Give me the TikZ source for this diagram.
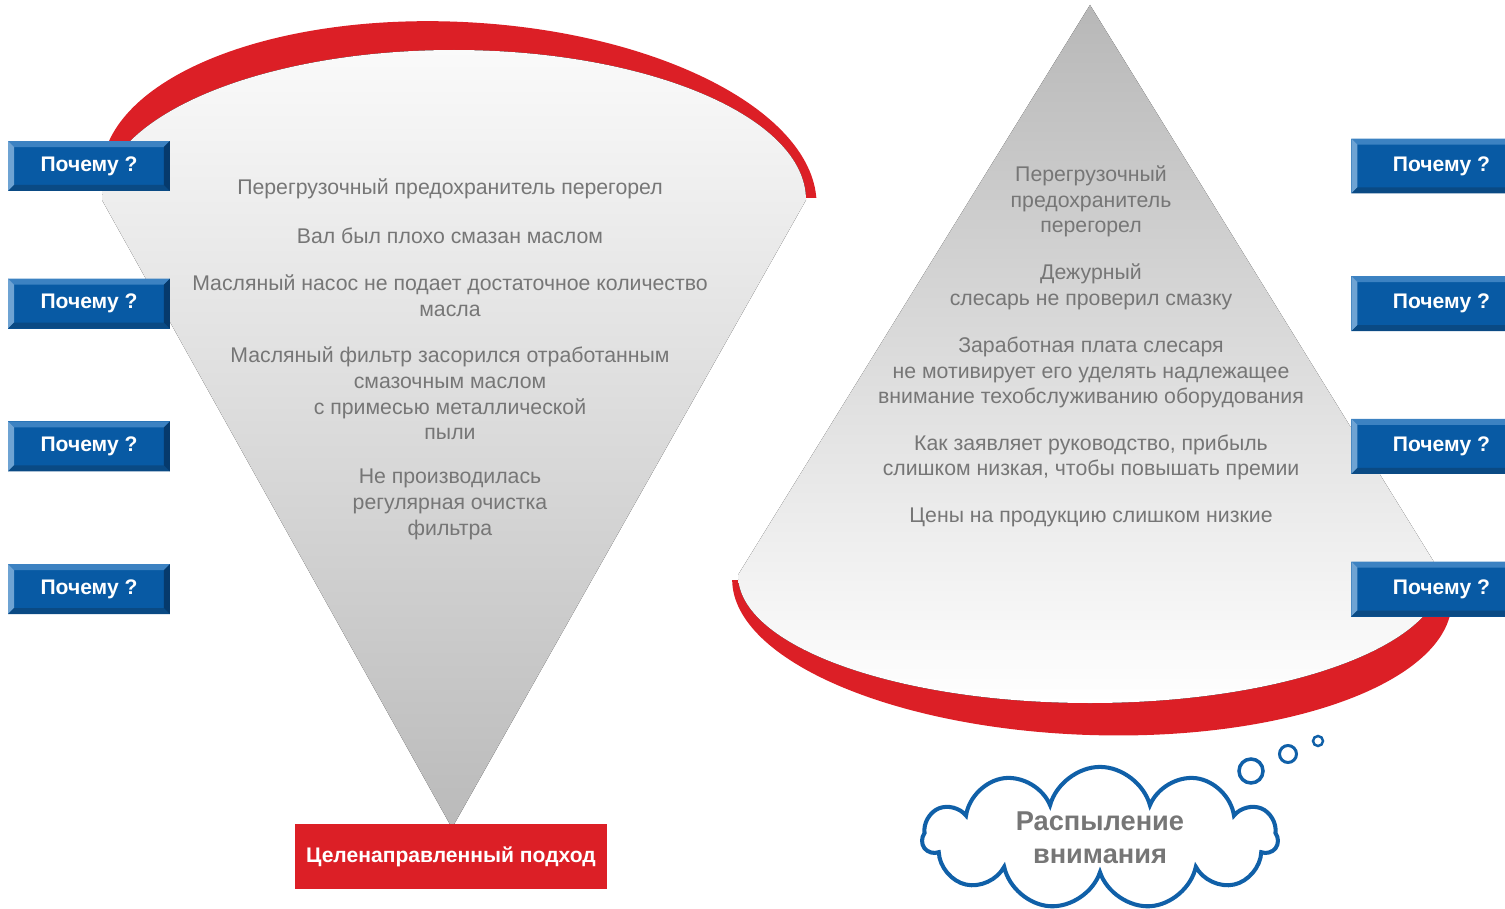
\documentclass[tikz,border=0pt]{standalone}
\usepackage{fontspec}
\setmainfont{Liberation Sans}
\usepackage{xcolor}
\usepackage{tikz}
\usetikzlibrary{positioning,shapes.symbols}

\definecolor{rimred}{RGB}{220,31,38}
\definecolor{btnblue}{RGB}{8,90,164}
\definecolor{bevtop}{RGB}{60,130,194}
\definecolor{bevleft}{RGB}{110,163,211}
\definecolor{bevbot}{RGB}{10,74,132}
\definecolor{bevright}{RGB}{6,58,108}
\definecolor{cloudblue}{RGB}{16,96,168}
\definecolor{textgray}{RGB}{118,118,118}

\newcommand{\bev}{0.12cm}

\begin{document}
\begin{tikzpicture}[
    x=0.02cm, y=-0.02cm,
    why/.style={rectangle, fill=btnblue, minimum width=3.24cm, minimum height=1cm, inner sep=0pt, text=white, font=\fontsize{12}{14}\selectfont\bfseries,
      path picture={
        \coordinate (nw) at (path picture bounding box.north west);
        \coordinate (ne) at (path picture bounding box.north east);
        \coordinate (sw) at (path picture bounding box.south west);
        \coordinate (se) at (path picture bounding box.south east);
        \fill[bevtop] (nw) -- (ne) -- ([shift={(-\bev,-\bev)}]ne) -- ([shift={(\bev,-\bev)}]nw) -- cycle;
        \fill[bevleft] (nw) -- (sw) -- ([shift={(\bev,\bev)}]sw) -- ([shift={(\bev,-\bev)}]nw) -- cycle;
        \fill[bevbot] (sw) -- (se) -- ([shift={(-\bev,\bev)}]se) -- ([shift={(\bev,\bev)}]sw) -- cycle;
        \fill[bevright] (ne) -- (se) -- ([shift={(-\bev,\bev)}]se) -- ([shift={(-\bev,-\bev)}]ne) -- cycle;
      }},
    whyR/.style={why, minimum width=3.6cm, minimum height=1.1cm},
    cause/.style={align=center, inner sep=0pt, text=textgray, font=\fontsize{12.1}{14.6}\selectfont},
    goal/.style={rectangle, fill=rimred, minimum width=6.24cm, minimum height=1.3cm, inner sep=0pt, text=white, font=\fontsize{12}{14}\selectfont\bfseries},
    thought/.style={cloud, cloud puffs=11, aspect=2.8, draw=cloudblue, line width=2.3pt, fill=white, minimum width=7.1cm, minimum height=2.3cm, align=center, text=textgray, font=\fontsize{15.5}{18.5}\selectfont\bfseries},
    bubble/.style={circle, draw=cloudblue, line width=2pt, fill=white, inner sep=0pt}
]
\useasboundingbox (0,0) rectangle (1505,909);

% Red rims
\begin{scope}
  \clip (0,0) rectangle (1505,197);
  \fill[rimred, rotate around={-3:(459,190)}] (459,190) ellipse [x radius=358, y radius=168];
\end{scope}
\begin{scope}
  \clip (0,580) rectangle (1505,909);
  \fill[rimred, rotate around={-2:(1092,590)}] (1092,590) ellipse [x radius=360, y radius=145];
\end{scope}

% Cones
\fill[top color=black!2, bottom color=black!27] (102,200) -- (452,828) -- (806,200)
  arc [start angle=0, end angle=-180, x radius=352, y radius=150] -- cycle;
\fill[top color=black!28, bottom color=white] (1090,5) -- (738,575)
  arc [start angle=180, end angle=0, x radius=352, y radius=128] -- cycle;

% Focused approach
\node[cause] (l1) at (450,189) {Перегрузочный предохранитель перегорел};
\node[cause] (l2) at (450,236) {Вал был плохо смазан маслом};
\node[cause] (l3) at (450,295.5) {Масляный насос не подает достаточное количество\\масла};
\node[cause] (l4) at (450,393.5) {Масляный фильтр засорился отработанным\\смазочным маслом\\с примесью металлической\\пыли};
\node[cause] (l5) at (450,504.5) {Не производилась\\регулярная очистка\\фильтра};
\node[goal] (focus) at (451,856.5) {Целенаправленный подход};

% Scattered attention
\node[cause] (r1) at (1091,201.5) {Перегрузочный\\предохранитель\\перегорел};
\node[cause] (r2) at (1091,287) {Дежурный\\слесарь не проверил смазку};
\node[cause] (r3) at (1091,372.5) {Заработная плата слесаря\\не мотивирует его уделять надлежащее\\внимание техобслуживанию оборудования};
\node[cause] (r4) at (1091,457.5) {Как заявляет руководство, прибыль\\слишком низкая, чтобы повышать премии};
\node[cause] (r5) at (1091,517) {Цены на продукцию слишком низкие};

% Why buttons
\node[why] (why1) at (89,166) {Почему ?};
\node[why, below=1.74cm of why1] (why2) {Почему ?};
\node[why, below=1.84cm of why2] (why3) {Почему ?};
\node[why, below=1.84cm of why3] (why4) {Почему ?};
\node[whyR, right=23.62cm of why1] (why5) {Почему ?};
\node[whyR, right=23.62cm of why2] (why6) {Почему ?};
\node[whyR, right=23.62cm of why3] (why7) {Почему ?};
\node[whyR, right=23.62cm of why4] (why8) {Почему ?};

% Thought cloud
\node[thought] (cloud) at (1100,838) {Распыление\\внимания};
\node[bubble, minimum size=0.48cm] (bub1) at (1251,771) {};
\node[bubble, minimum size=0.34cm, line width=1.7pt] (bub2) at (1288,754) {};
\node[bubble, minimum size=0.2cm, line width=1.4pt] (bub3) at (1318,741) {};

\end{tikzpicture}
\end{document}
